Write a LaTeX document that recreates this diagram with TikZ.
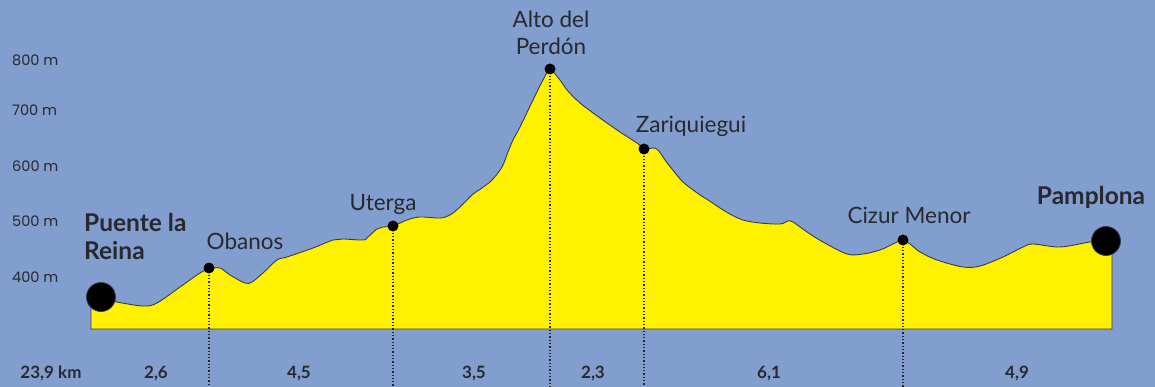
\documentclass[tikz,border=0pt]{standalone}
\usepackage{fontspec}
\setmainfont{Lato}
\newfontfamily\axisfont{Poppins}
\usetikzlibrary{positioning}

\definecolor{skyblue}{RGB}{129,158,206}
\definecolor{hillyellow}{RGB}{255,241,0}
\definecolor{ink}{RGB}{40,40,46}
\definecolor{edge}{RGB}{55,60,75}

\tikzset{
  town/.style={font=\fontsize{22.5}{26}\selectfont, text=ink, inner sep=0pt, anchor=base},
  bigtown/.style={town, font=\fontsize{24.5}{28}\selectfont\bfseries},
  height/.style={font=\axisfont\fontsize{14.5}{17}\selectfont, text=ink, inner sep=0pt, anchor=base west},
  leg/.style={font=\fontsize{17}{19}\selectfont\bfseries, text=ink, inner sep=0pt, anchor=base},
  waypoint/.style={circle, fill=black, inner sep=0pt, minimum size=11pt},
  endpoint/.style={circle, fill=black, draw=edge, line width=0.8pt, inner sep=0pt, minimum size=29pt},
  dropline/.style={dotted, line width=1.3pt, black!85}
}

\begin{document}
\begin{tikzpicture}[x=1pt, y=-1pt]
  % Background
  \useasboundingbox (0,0) rectangle (1155,387);
  \fill[skyblue] (0,0) rectangle (1155,387);
  \coordinate (base) at (0,387);

  % Elevation scale
  \node[height] (h800) at (12,66) {800 m};
  \node[height] (h700) at (12,116) {700 m};
  \node[height] (h600) at (12,172) {600 m};
  \node[height] (h500) at (12,226) {500 m};
  \node[height] (h400) at (12,282) {400 m};

  % Draw the profile
  \filldraw[fill=hillyellow, draw=edge, line width=0.9pt, line join=round]
    (91,329) -- plot[smooth, tension=0.55] coordinates {
      (91,297) (101,298) (117,302) (143,306) (157,303) (180,287) (200,273)
      (209,269) (220,268) (230,275) (245,283) (252,282) (263,273) (277,260)
      (287,257) (313,248) (333,240) (343,239) (363,240) (368,237) (377,229)
      (383,227) (393,226) (407,220) (420,217) (440,218) (450,215) (460,207)
      (472,195) (482,188) (492,180) (502,167) (508,152) (513,140) (520,127)
      (533,100) (543,80) (550,70) (560,80) (567,90) (580,103) (600,118)
      (620,132) (637,143) (644,149) (653,148) (658,150) (665,160) (672,169)
      (683,182) (700,195) (708,200) (728,213) (743,220) (760,223) (780,224)
      (788,221) (793,222) (807,232) (823,242) (847,254) (863,254) (880,250)
      (895,243) (903,240) (910,244) (920,252) (937,260) (963,267) (980,266)
      (1003,257) (1023,247) (1033,244) (1060,247) (1090,242) (1106,241)
      (1112,241)}
    -- (1112,329) -- cycle;

  % Stops along the way
  \coordinate (obanos) at (209,268);
  \coordinate (uterga) at (393,226);
  \coordinate (perdon) at (550,69);
  \coordinate (zariquiegui) at (644,149);
  \coordinate (cizur) at (903,240);

  % Draw the vertical lines
  \foreach \stop in {obanos, uterga, perdon, zariquiegui, cizur}
    \draw[dropline] (\stop) -- (\stop |- base);

  \foreach \stop in {obanos, uterga, perdon, zariquiegui, cizur}
    \node[waypoint] (\stop dot) at (\stop) {};
  \node[endpoint] (puente) at (101,297) {};
  \node[endpoint] (pamplona) at (1106,241) {};

  % Town names
  \node[bigtown, anchor=base west] (puentelabel) at ([xshift=-17pt, yshift=66pt]puente) {Puente la};
  \node[bigtown, anchor=base west] (reinalabel) at ([yshift=-28pt]puentelabel.base west) {Reina};
  \node[town] (obanoslabel) at ([xshift=36pt, yshift=19pt]obanosdot) {Obanos};
  \node[town] (utergalabel) at ([xshift=-10pt, yshift=15pt]utergadot) {Uterga};
  \node[town] (perdonlabel) at ([xshift=1pt, yshift=14pt]perdondot) {Perdón};
  \node[town] (altolabel) at ([yshift=27pt]perdonlabel.base) {Alto del};
  \node[town] (zariquieguilabel) at ([xshift=47pt, yshift=16pt]zariquieguidot) {Zariquiegui};
  \node[town] (cizurlabel) at ([xshift=6pt, yshift=17pt]cizurdot) {Cizur Menor};
  \node[bigtown] (pamplonalabel) at ([xshift=-15pt, yshift=36pt]pamplona) {Pamplona};

  % Stage lengths
  \node[leg] (total) at (51,378) {23,9 km};
  \node[leg] (leg1) at (156,378) {2,6};
  \node[leg] (leg2) at (299,378) {4,5};
  \node[leg] (leg3) at (474,378) {3,5};
  \node[leg] (leg4) at (593,378) {2,3};
  \node[leg] (leg5) at (769,378) {6,1};
  \node[leg] (leg6) at (1017,378) {4,9};
\end{tikzpicture}
\end{document}
